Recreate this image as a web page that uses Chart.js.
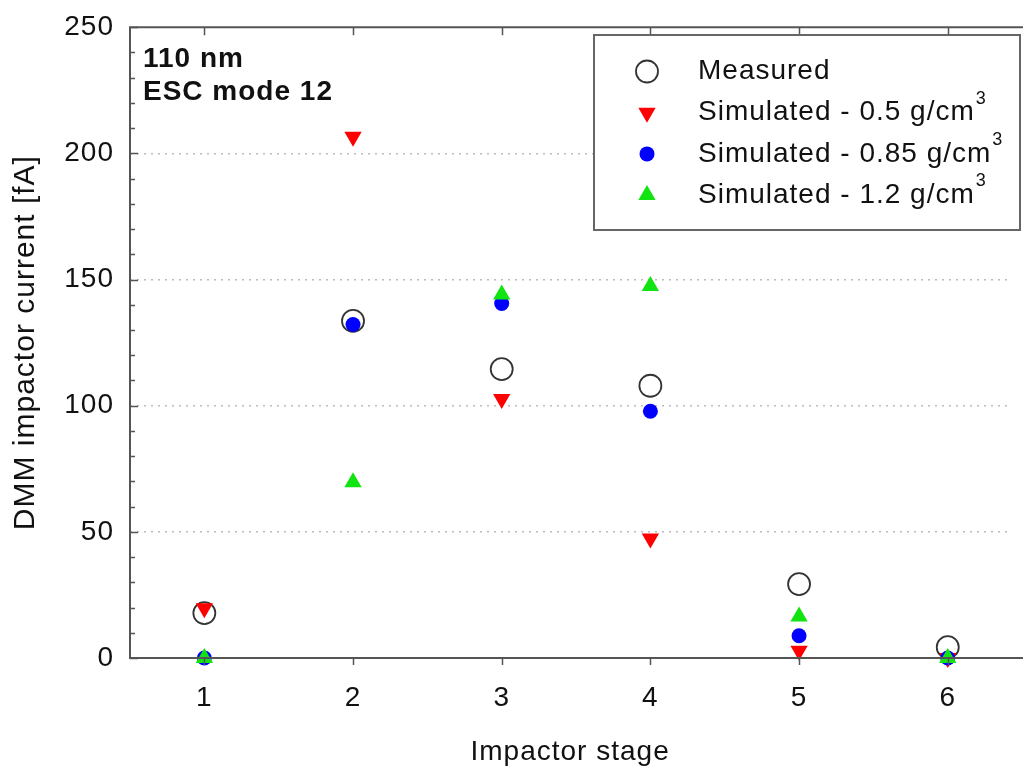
<!DOCTYPE html>
<html>
<head>
<meta charset="utf-8">
<script src="https://cdn.jsdelivr.net/npm/chart.js@4.4.1/dist/chart.umd.min.js"></script>
<style>
  html, body { margin: 0; padding: 0; background: #fff; }
  #wrap { width: 1023px; height: 769px; }
</style>
</head>
<body>
<div id="wrap"><canvas id="dmmChart" width="1023" height="769"></canvas></div>
<script>
const stages = [1, 2, 3, 4, 5, 6];
const measured = [17.8, 133.6, 114.5, 107.9, 29.3, 4.3];
const sim05 = [19.7, 206.6, 102.6, 47.4, 2.9, 0];
const sim085 = [0, 132.2, 140.5, 97.8, 8.8, 0];
const sim12 = [0, 69.7, 144.1, 147.4, 16.4, 0];
const yTicks = [0, 50, 100, 150, 200, 250];
const legendLabels = ['Measured', 'Simulated - 0.5 g/cm', 'Simulated - 0.85 g/cm', 'Simulated - 1.2 g/cm'];
const legendSup = ['', '3', '3', '3'];
const noteLines = ['110 nm', 'ESC mode 12'];

const FONT = '"Liberation Sans", Arial, sans-serif';

function pts(vals) {
    return stages.map((s, i) => ({ x: s, y: vals[i] }));
}

// the reference type is a bit wider than Arial, spread the letters a little
const spacing = {
    id: 'spacing',
    beforeDraw(chart) {
        chart.ctx.letterSpacing = '1px';
    }
};

// frame, inward ticks, legend box and the note in the corner
const decorations = {
    id: 'decorations',
    afterDraw(chart) {
        const ctx = chart.ctx;
        const a = chart.chartArea;
        const xs = chart.scales.x;
        const ys = chart.scales.y;
        ctx.save();
        ctx.strokeStyle = '#555';
        ctx.lineWidth = 2;
        ctx.beginPath();
        ctx.moveTo(chart.width, a.top);
        ctx.lineTo(a.left, a.top);
        ctx.lineTo(a.left, a.bottom);
        ctx.lineTo(chart.width, a.bottom);
        ctx.stroke();

        ctx.lineWidth = 1.5;
        ctx.beginPath();
        for (let v = 0; v <= 250; v += 10) {
            const y = Math.round(ys.getPixelForValue(v)) + 0.5;
            const len = v % 50 === 0 ? 8 : 5;
            ctx.moveTo(a.left, y);
            ctx.lineTo(a.left + len, y);
        }
        stages.forEach(s => {
            const x = Math.round(xs.getPixelForValue(s)) + 0.5;
            ctx.moveTo(x, a.top);
            ctx.lineTo(x, a.top + 8);
            ctx.moveTo(x, a.bottom);
            ctx.lineTo(x, a.bottom + 7);
        });
        ctx.stroke();

        // note
        ctx.fillStyle = '#111';
        ctx.font = 'bold 28px ' + FONT;
        ctx.textBaseline = 'alphabetic';
        ctx.textAlign = 'left';
        ctx.fillText(noteLines[0], 143, 67);
        ctx.fillText(noteLines[1], 143, 100);

        // legend
        ctx.fillStyle = '#fff';
        ctx.fillRect(594, 35, 426, 195);
        ctx.strokeStyle = '#666';
        ctx.lineWidth = 2;
        ctx.strokeRect(594, 35, 426, 195);

        const sets = chart.data.datasets;
        legendLabels.forEach((label, i) => {
            const y = 71.5 + i * 41.2;
            drawMarker(ctx, sets[i], 647, y);
            ctx.fillStyle = '#111';
            ctx.font = '28px ' + FONT;
            ctx.textBaseline = 'middle';
            ctx.textAlign = 'left';
            ctx.fillText(label, 698, y);
            if (legendSup[i]) {
                const w = ctx.measureText(label).width;
                ctx.font = '18px ' + FONT;
                ctx.fillText(legendSup[i], 698 + w + 1, y - 14);
            }
        });
        ctx.restore();
    }
};

function drawMarker(ctx, ds, x, y) {
    const r = ds.pointRadius;
    ctx.save();
    ctx.beginPath();
    if (ds.pointStyle === 'circle') {
        ctx.arc(x, y, r, 0, Math.PI * 2);
    } else {
        const dir = ds.rotation === 180 ? -1 : 1;
        const h = r * Math.sqrt(3) / 2;
        ctx.moveTo(x, y - dir * r);
        ctx.lineTo(x + h, y + dir * r / 2);
        ctx.lineTo(x - h, y + dir * r / 2);
        ctx.closePath();
    }
    ctx.fillStyle = ds.backgroundColor;
    ctx.fill();
    if (ds.borderWidth) {
        ctx.strokeStyle = ds.borderColor;
        ctx.lineWidth = ds.borderWidth;
        ctx.stroke();
    }
    ctx.restore();
}

const ctx = document.getElementById('dmmChart').getContext('2d');
const dmmChart = new Chart(ctx, {
    type: 'scatter',
    data: {
        datasets: [
            {
                label: legendLabels[0],
                data: pts(measured),
                pointStyle: 'circle',
                pointRadius: 11,
                borderColor: '#333',
                borderWidth: 1.8,
                backgroundColor: 'rgba(255,255,255,0)',
                order: 4,
                clip: false
            },
            {
                label: legendLabels[1],
                data: pts(sim05),
                pointStyle: 'triangle',
                rotation: 180,
                pointRadius: 10,
                backgroundColor: '#ff0000',
                borderColor: '#ff0000',
                borderWidth: 0,
                order: 3,
                clip: false
            },
            {
                label: legendLabels[2],
                data: pts(sim085),
                pointStyle: 'circle',
                pointRadius: 7.5,
                backgroundColor: '#0000ff',
                borderColor: '#0000ff',
                borderWidth: 0,
                order: 2,
                clip: false
            },
            {
                label: legendLabels[3],
                data: pts(sim12),
                pointStyle: 'triangle',
                pointRadius: 10,
                backgroundColor: '#11e411',
                borderColor: '#11e411',
                borderWidth: 0,
                order: 1,
                clip: false
            }
        ]
    },
    options: {
        responsive: false,
        animation: false,
        layout: { padding: { top: 0, right: 1, left: 0, bottom: 0 } },
        plugins: {
            legend: { display: false },
            tooltip: { enabled: false }
        },
        scales: {
            x: {
                type: 'linear',
                min: 0.5,
                max: 6.42,
                afterBuildTicks: s => { s.ticks = stages.map(v => ({ value: v })); },
                afterFit: s => { s.height = 111; },
                ticks: { color: '#111', font: { size: 28, family: FONT }, padding: 23 },
                grid: { display: false, drawTicks: false },
                border: { display: false },
                title: {
                    display: true,
                    text: 'Impactor stage',
                    color: '#111',
                    font: { size: 28, family: FONT },
                    padding: { top: 0, bottom: 0 }
                }
            },
            y: {
                min: 0,
                max: 250,
                afterBuildTicks: s => { s.ticks = yTicks.map(v => ({ value: v })); },
                afterFit: s => { s.width = 130; },
                ticks: { color: '#111', font: { size: 28, family: FONT, lineHeight: 0.8 }, padding: 16 },
                grid: {
                    drawTicks: false,
                    lineWidth: 1.5,
                    color: c => (c.tick && c.tick.value > 0 && c.tick.value < 250) ? '#bbb' : 'rgba(0,0,0,0)'
                },
                border: { display: false, dash: [2, 5] },
                title: {
                    display: true,
                    text: 'DMM impactor current [fA]',
                    color: '#111',
                    font: { size: 30, family: FONT },
                    padding: { top: 8, bottom: 8 }
                }
            }
        }
    },
    plugins: [spacing, decorations]
});
</script>
</body>
</html>
